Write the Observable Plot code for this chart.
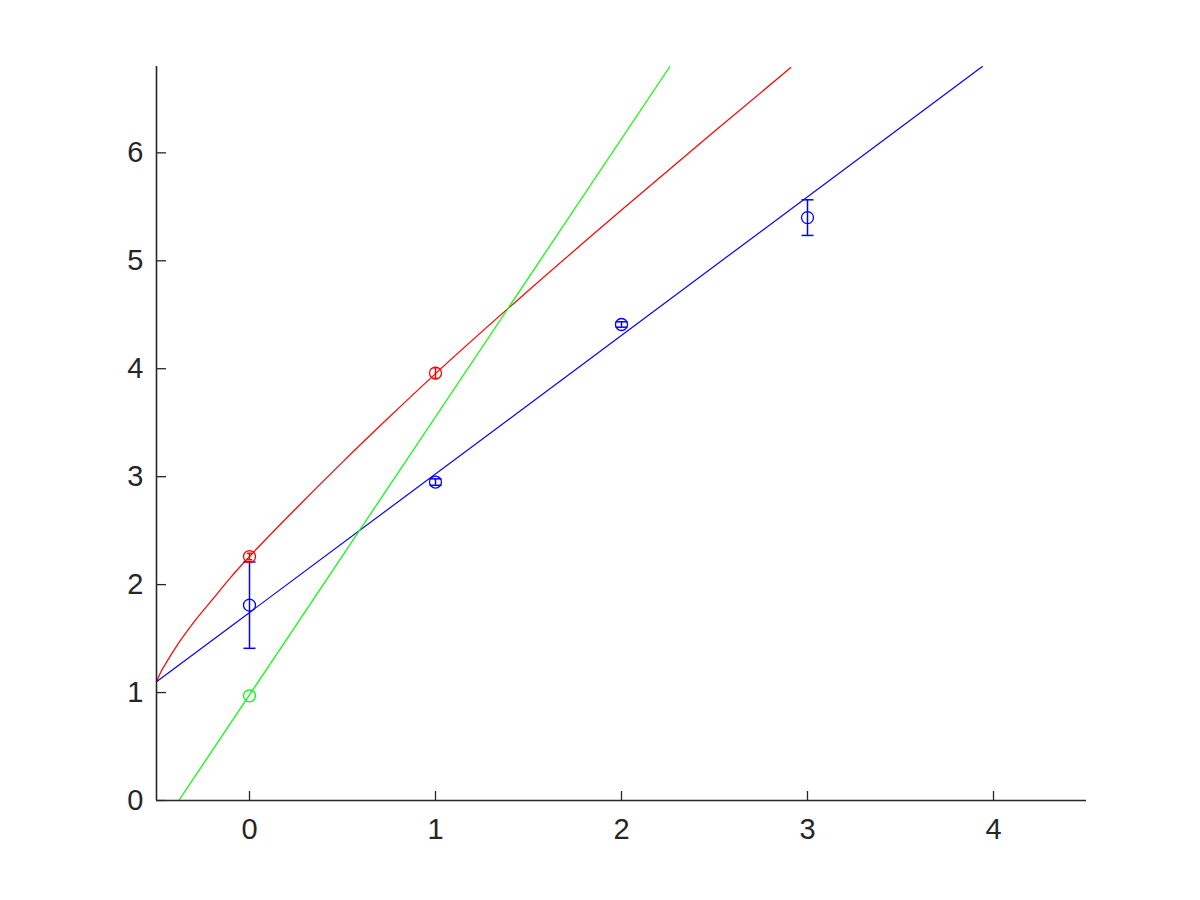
<!DOCTYPE html>
<html><head><meta charset="utf-8">
<script src="https://cdn.jsdelivr.net/npm/d3@7"></script>
<script src="https://cdn.jsdelivr.net/npm/@observablehq/plot@0.6"></script>
<style>body{margin:0;background:#fff;} #chart{width:1200px;height:900px;}</style>
</head><body><div id="chart"></div>
<script>
// Tick values
const xTicks = [0, 1, 2, 3, 4];
const yTicks = [0, 1, 2, 3, 4, 5, 6];

// Fitted curves
const redCurveX = [-0.5, -0.49, -0.48, -0.45, -0.4, -0.3, -0.2, -0.1, 0, 0.25, 0.5, 0.75, 1.0, 1.5, 2.0, 2.5, 2.91];
const redCurveY = [1.10, 1.14, 1.18, 1.27, 1.41, 1.65, 1.86, 2.07, 2.26, 2.705, 3.135, 3.55, 3.955, 4.725, 5.47, 6.20, 6.79];
const blueLineX = [-0.5, 3.94];
const blueLineY = [1.10, 6.80];
const greenLineX = [-0.38, 2.26];
const greenLineY = [0, 6.80];

// Data points with error bars
const blueX = [0, 1, 2, 3];
const blueY = [1.81, 2.95, 4.41, 5.40];
const blueErr = [0.40, 0.03, 0.025, 0.165];
const redX = [0, 1];
const redY = [2.26, 3.96];
const redErr = [0.03, 0.05];
const greenX = [0];
const greenY = [0.97];
const greenErr = [0];

const RED = "#FF0000", GREEN = "#00FF00", BLUE = "#0000FF", AX = "#262626";

const redLine = redCurveX.map((x, i) => ({x, y: redCurveY[i]}));
const blueLine = blueLineX.map((x, i) => ({x, y: blueLineY[i]}));
const greenLine = greenLineX.map((x, i) => ({x, y: greenLineY[i]}));
const pts = [
  ...blueX.map((x, i) => ({x, y: blueY[i], e: blueErr[i], c: BLUE})),
  ...redX.map((x, i) => ({x, y: redY[i], e: redErr[i], c: RED})),
  ...greenX.map((x, i) => ({x, y: greenY[i], e: greenErr[i], c: GREEN}))
];
const errPts = pts.filter(d => d.e > 0);
const wideCap = {draw(ctx) { ctx.moveTo(-6, 0); ctx.lineTo(6, 0); }};
const narrowCap = {draw(ctx) { ctx.moveTo(-2.5, 0); ctx.lineTo(2.5, 0); }};
const blueErrPts = errPts.filter(d => d.c === BLUE);
const redErrPts = errPts.filter(d => d.c === RED);

const chart = Plot.plot({
  width: 1200,
  height: 900,
  marginLeft: 156,
  marginRight: 114,
  marginTop: 66,
  marginBottom: 100,
  style: {fontFamily: "'Liberation Sans', Arial, sans-serif", fontSize: "29px", color: AX, background: "#fff"},
  x: {domain: [-0.5, 4.5], label: null},
  y: {domain: [0, 6.8], label: null},
  color: {type: "identity"},
  marks: [
    Plot.line(redLine, {x: "x", y: "y", stroke: RED, strokeWidth: 1.2, curve: "monotone-x"}),
    Plot.line(blueLine, {x: "x", y: "y", stroke: BLUE, strokeWidth: 1.2}),
    Plot.line(greenLine, {x: "x", y: "y", stroke: GREEN, strokeWidth: 1.2}),
    Plot.ruleX(errPts, {x: "x", y1: d => d.y - d.e, y2: d => d.y + d.e, stroke: "c", strokeWidth: 1.5}),
    Plot.dot(blueErrPts, {x: "x", y: d => d.y - d.e, symbol: wideCap, stroke: "c", strokeWidth: 1.5}),
    Plot.dot(blueErrPts, {x: "x", y: d => d.y + d.e, symbol: wideCap, stroke: "c", strokeWidth: 1.5}),
    Plot.dot(redErrPts, {x: "x", y: d => d.y - d.e, symbol: narrowCap, stroke: "c", strokeWidth: 1.5}),
    Plot.dot(redErrPts, {x: "x", y: d => d.y + d.e, symbol: narrowCap, stroke: "c", strokeWidth: 1.5}),
    Plot.dot(pts, {x: "x", y: "y", r: 6, stroke: "c", fill: "none", strokeWidth: 1.3}),
    Plot.axisX({ticks: xTicks, tickSize: -9, text: null, label: null, stroke: AX, strokeWidth: 1.3}),
    Plot.axisX({ticks: xTicks, tickSize: 0, tickPadding: 18, tickFormat: d => String(d), label: null, fill: AX}),
    Plot.axisY({ticks: yTicks, tickSize: -10, text: null, label: null, stroke: AX, strokeWidth: 1.3}),
    Plot.axisY({ticks: yTicks, tickSize: 0, tickPadding: 13, tickFormat: d => String(d), label: null, fill: AX}),
    Plot.ruleY([0], {stroke: AX, strokeWidth: 1.6}),
    Plot.ruleX([-0.5], {stroke: AX, strokeWidth: 1.6})
  ]
});
document.getElementById("chart").appendChild(chart);
</script>
</body></html>
